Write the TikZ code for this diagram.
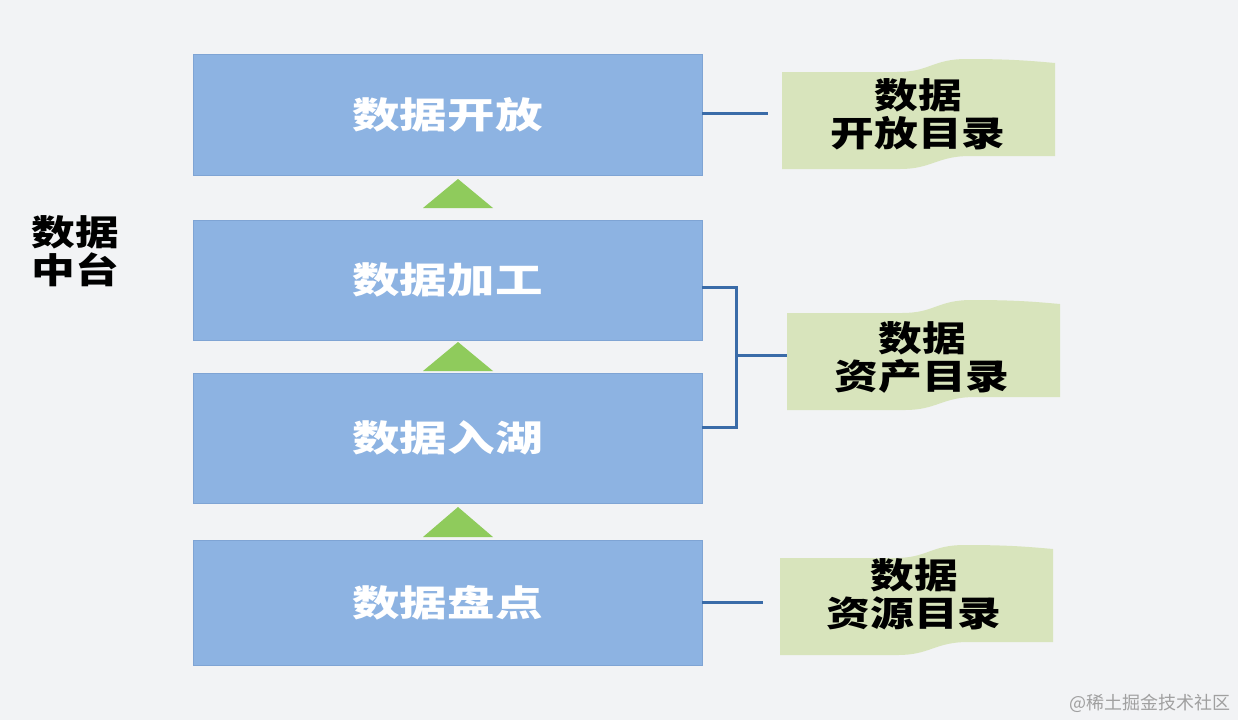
\documentclass[tikz,border=0pt]{standalone}
\usepackage{fontspec}
\newfontfamily\cjk{Noto Sans CJK SC}[FakeStretch=1.25]
\newfontfamily\cjkw{Noto Sans CJK SC}[FakeStretch=1.32]
\newfontfamily\cjkn{Noto Sans CJK SC}
\usetikzlibrary{calc}
\definecolor{bgc}{HTML}{F2F3F5}
\definecolor{boxc}{HTML}{8DB3E2}
\definecolor{boxd}{HTML}{7FA4D4}
\definecolor{flagc}{HTML}{D8E4BC}
\definecolor{tric}{HTML}{8FCB5C}
\definecolor{linec}{HTML}{3A6BA8}
\definecolor{wmc}{HTML}{A0A0A0}
\tikzset{
  layer/.style={draw=boxd, line width=0.8pt, fill=boxc, minimum width=509pt, inner sep=0pt,
    text=white, font=\cjkw\bfseries\fontsize{36}{38}\selectfont},
  flagtext/.style={align=center, text=black, font=\cjk\bfseries\fontsize{35}{38}\selectfont},
  conn/.style={draw=linec, line width=3pt},
  tri/.style={fill=tric},
  flagbg/.pic={\fill[flagc] (0,0) -- (115,0) .. controls (148,0) and (150,-13) .. (185,-13) .. controls (230,-13) and (250,-11) .. (273,-9) -- (273,84) -- (188,84) .. controls (155,84) and (150,97) .. (118,97) -- (0,97) -- cycle;}
}
\begin{document}
\begin{tikzpicture}[x=1pt,y=-1pt]
\fill[bgc] (0,0) rectangle (1238,720);
\useasboundingbox (0,0) rectangle (1238,720);

% layers
\node[layer, minimum height=121pt] (b1) at (447.5,114.5) {数据开放};
\node[layer, minimum height=120pt] (b2) at (447.5,280) {数据加工};
\node[layer, minimum height=130pt] (b3) at (447.5,438) {数据入湖};
\node[layer, minimum height=125pt] (b4) at (447.5,602.5) {数据盘点};

% triangles
\fill[tri] (423,208) -- (458,179) -- (493,208) -- cycle;
\fill[tri] (423,371) -- (458,342) -- (493,371) -- cycle;
\fill[tri] (423,537) -- (458,507) -- (493,537) -- cycle;

% left label
\node[align=center, font=\cjk\bfseries\fontsize{35}{38}\selectfont] (lab) at (75,251) {数据\\中台};

% flags
\pic at (782,72) {flagbg};
\pic at (787,313) {flagbg};
\pic at (780,558) {flagbg};
\node[flagtext] (f1) at (918,114) {数据\\开放目录};
\node[flagtext] (f2) at (922,357) {数据\\资产目录};
\node[flagtext] (f3) at (914,594) {数据\\资源目录};

% connectors
\coordinate (e1) at (768,113);
\coordinate (k1) at (736,287);
\coordinate (k2) at (736,427);
\coordinate (k3) at (736,355);
\coordinate (e2) at (787,355);
\coordinate (e4) at (763,602);
\draw[conn] (b1.east|-e1) -- (e1);
\draw[conn] (b2.east|-k1) -- (k1) -- (k2) -- (b3.east|-k2);
\draw[conn] (k3) -- (e2);
\draw[conn] (b4.east|-e4) -- (e4);

% watermark
\node[anchor=east, text=wmc, font=\cjkn\fontsize{18}{20}\selectfont, inner sep=0pt] (wm) at (1231,703) {@稀土掘金技术社区};
\end{tikzpicture}
\end{document}
